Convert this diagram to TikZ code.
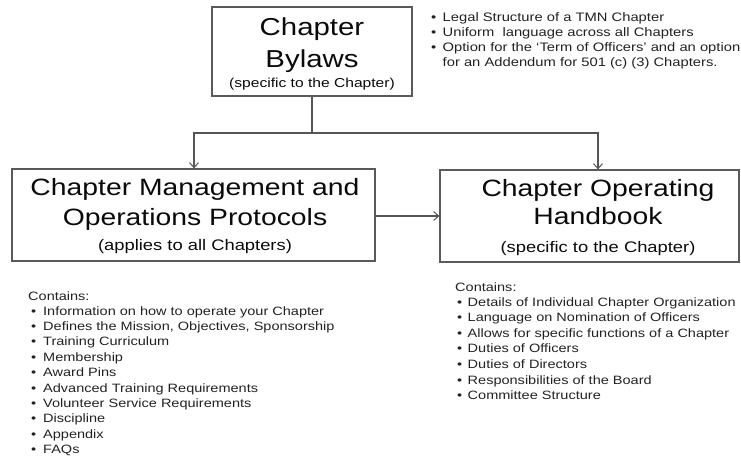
\documentclass[tikz,border=0pt]{standalone}
\usepackage{fontspec}
\setmainfont[FakeStretch=1.2]{Liberation Sans}
\usetikzlibrary{arrows.meta}
\definecolor{boxgray}{HTML}{5A5A5A}
\definecolor{linegray}{HTML}{555555}
\definecolor{inkblack}{HTML}{0A0A0A}
\definecolor{listink}{HTML}{222222}
\begin{document}
\begin{tikzpicture}[x=1pt,y=-1pt,
  box/.style={draw=boxgray, line width=1.3pt, inner sep=0pt, minimum width=#1},
  conn/.style={draw=linegray, line width=1.1pt},
  arr/.style={conn, -{Straight Barb[length=5pt,width=9pt,line width=1pt]}},
  bigtitle/.style={font=\fontsize{24.5}{28}\selectfont, text=inkblack, anchor=base, inner sep=0pt},
  midtitle/.style={font=\fontsize{23.6}{26}\selectfont, text=inkblack, anchor=base, inner sep=0pt},
  subtitle/.style={font=\fontsize{#1}{16}\selectfont, text=inkblack, anchor=base, inner sep=0pt},
  noteitem/.style={font=\fontsize{12.3}{14}\selectfont, text=listink, anchor=base west, inner sep=0pt},
  listitem/.style={font=\fontsize{12.1}{14}\selectfont, text=listink, anchor=base west, inner sep=0pt},
]
\useasboundingbox (0,0) rectangle (741,460);

% boxes
\node[box=200pt, minimum height=89pt] (bylaws) at (312,51.5) {};
\node[box=363pt, minimum height=92pt] (protocols) at (193.5,215) {};
\node[box=299pt, minimum height=92pt] (handbook) at (589.5,216) {};

% box texts
\node[bigtitle] (b1) at (312,36) {Chapter};
\node[bigtitle] (b2) at (312,67) {Bylaws};
\node[subtitle=13] (b3) at (312,88) {(specific to the Chapter)};

\node[midtitle] (p1) at (195,195) {Chapter Management and};
\node[midtitle] (p2) at (195,225) {Operations Protocols};
\node[subtitle=15.3] (p3) at (195,250) {(applies to all Chapters)};

\node[midtitle] (h1) at (598,196) {Chapter Operating};
\node[midtitle] (h2) at (598,224) {Handbook};
\node[subtitle=15.3] (h3) at (598,252) {(specific to the Chapter)};

% connectors
\coordinate (junction) at (312,133);
\coordinate (leftturn) at (194,133);
\coordinate (rightturn) at (598,133);
\draw[conn] (bylaws.south) -- (junction);
\draw[arr] (junction) -- (leftturn) -- (leftturn |- protocols.north);
\draw[arr] (junction) -- (rightturn) -- (rightturn |- handbook.north);
\draw[arr] (protocols.east |- 0,216) -- (handbook.west |- 0,216);

% notes beside the bylaws box
\node[noteitem] (n1) at (431,21.5) {\makebox[11.5pt][l]{•}Legal Structure of a TMN Chapter};
\node[noteitem] (n2) at (431,36.5) {\makebox[11.5pt][l]{•}Uniform\ \ language across all Chapters};
\node[noteitem] (n3) at (431,51.5) {\makebox[11.5pt][l]{•}Option for the ‘Term of Officers’ and an option};
\node[noteitem] (n4) at (442.5,66.5) {for an Addendum for 501 (c) (3) Chapters.};

% contents of the protocols
\node[listitem] (lc) at (28,300) {Contains:};
\foreach \txt [count=\i from 0] in {
  Information on how to operate your Chapter,
  {Defines the Mission, Objectives, Sponsorship},
  Training Curriculum,
  Membership,
  Award Pins,
  Advanced Training Requirements,
  Volunteer Service Requirements,
  Discipline,
  Appendix,
  FAQs}
  \node[listitem] (l\i) at (31,315+15.4*\i) {\makebox[12pt][l]{•}\txt};

% contents of the handbook
\node[listitem] (rc) at (455,291) {Contains:};
\foreach \txt [count=\i from 0] in {
  Details of Individual Chapter Organization,
  Language on Nomination of Officers,
  Allows for specific functions of a Chapter,
  Duties of Officers,
  Duties of Directors,
  Responsibilities of the Board,
  Committee Structure}
  \node[listitem] (r\i) at (457,306+15.6*\i) {\makebox[10.5pt][l]{•}\txt};
\end{tikzpicture}
\end{document}
